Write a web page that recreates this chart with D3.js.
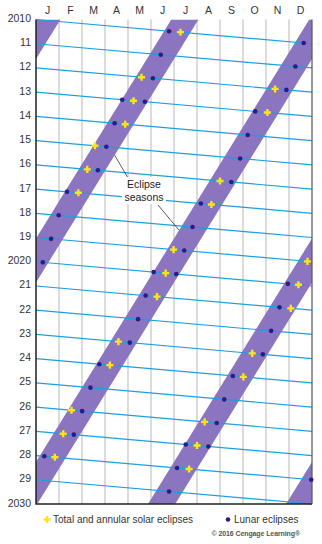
<!DOCTYPE html>
<html>
<head>
<meta charset="utf-8">
<script src="https://cdn.jsdelivr.net/npm/d3@7"></script>
<style>
  body { margin: 0; background: #fff; }
  svg text { font-family: "Liberation Sans", Arial, Helvetica, sans-serif; }
</style>
</head>
<body>
<div class="chart"></div>
<script>
const months = ['J', 'F', 'M', 'A', 'M', 'J', 'J', 'A', 'S', 'O', 'N', 'D'];
const yearTicks = d3.range(2010, 2031);
const yearLabels = ['2010', '11', '12', '13', '14', '15', '16', '17', '18', '19',
    '2020', '21', '22', '23', '24', '25', '26', '27', '28', '29', '2030'];

// total, annular and hybrid solar eclipses shown on the chart
const solarEclipses = [
    '2010-07-11', '2012-05-20', '2012-11-13', '2013-05-10', '2013-11-03',
    '2014-04-29', '2015-03-20', '2016-03-09', '2016-09-01', '2017-02-26',
    '2017-08-21', '2019-07-02', '2019-12-26', '2020-06-21', '2020-12-14',
    '2021-06-10', '2021-12-04', '2023-04-20', '2023-10-14', '2024-04-08',
    '2024-10-02', '2026-02-17', '2026-08-12', '2027-02-06', '2027-08-02',
    '2028-01-26', '2028-07-22'
];

const lunarEclipses = [
    '2010-06-26', '2010-12-21', '2011-06-15', '2011-12-10', '2012-06-04',
    '2012-11-28', '2013-04-25', '2013-05-25', '2013-10-18', '2014-04-15',
    '2014-10-08', '2015-04-04', '2015-09-28', '2016-03-23', '2016-09-16',
    '2017-02-11', '2017-08-07', '2018-01-31', '2018-07-27', '2019-01-21',
    '2019-07-16', '2020-01-10', '2020-06-05', '2020-07-05', '2020-11-30',
    '2021-05-26', '2021-11-19', '2022-05-16', '2022-11-08', '2023-05-05',
    '2023-10-28', '2024-03-25', '2024-09-18', '2025-03-14', '2025-09-07',
    '2026-03-03', '2026-08-28', '2027-02-20', '2027-07-18', '2027-08-17',
    '2028-01-12', '2028-07-06', '2028-12-31', '2029-06-26'
];

// eclipse season bands: centre day-of-year at start of 2010, drift per year, half width (days)
const seasonCenterDay = 197;
const seasonDrift = -19.8;
const seasonHalfWidth = 18;
const seasonSpacing = 365.25 / 2;

const W = 322, H = 544;
const margin = { top: 19.5, left: 36, right: 10, bottom: 40 };

const svg = d3.select('.chart').append('svg')
    .attr('width', W).attr('height', H);

const x = d3.scaleLinear().domain([0, 1]).range([margin.left, W - margin.right]);
const y = d3.scaleLinear().domain([2010, 2030]).range([margin.top, H - margin.bottom]);

const parse = d3.utcParse('%Y-%m-%d');
const toPos = function (s) {
    const d = parse(s);
    const y0 = d3.utcYear.floor(d);
    const y1 = d3.utcYear.offset(y0, 1);
    const frac = (d - y0) / (y1 - y0);
    return { frac: frac, t: d.getUTCFullYear() + frac };
};

svg.append('defs').append('clipPath').attr('id', 'plot')
    .append('rect')
    .attr('x', x(0)).attr('y', y(2010))
    .attr('width', x(1) - x(0)).attr('height', y(2030) - y(2010));

// month grid
svg.append('g').selectAll('line').data(d3.range(1, 12))
    .enter().append('line')
    .attr('x1', function (d) { return x(d / 12); })
    .attr('x2', function (d) { return x(d / 12); })
    .attr('y1', y(2010)).attr('y2', y(2030))
    .style('stroke', '#c4c4c4').style('stroke-width', 1.2);

// eclipse season bands
const bandCenter = function (t, k) {
    return (seasonCenterDay + seasonDrift * (t - 2010) + k * seasonSpacing) / 365.25;
};
const hw = seasonHalfWidth / 365.25;
svg.append('g').attr('clip-path', 'url(#plot)')
    .selectAll('path').data(d3.range(-1, 5))
    .enter().append('path')
    .attr('d', function (k) {
        const a = bandCenter(2010, k), b = bandCenter(2030, k);
        return 'M' + x(a - hw) + ',' + y(2010) + 'L' + x(a + hw) + ',' + y(2010) +
            'L' + x(b + hw) + ',' + y(2030) + 'L' + x(b - hw) + ',' + y(2030) + 'Z';
    })
    .style('fill', '#8b75c0');

// helical year lines
svg.append('g').selectAll('line').data(d3.range(2010, 2030))
    .enter().append('line')
    .attr('x1', x(0)).attr('y1', function (d) { return y(d); })
    .attr('x2', x(1)).attr('y2', function (d) { return y(d + 1); })
    .style('stroke', '#1a9fe0').style('stroke-width', 1.2);

// frame
svg.append('path')
    .attr('d', 'M' + x(0) + ',' + y(2010) + 'V' + y(2030) + 'H' + x(1))
    .style('fill', 'none').style('stroke', '#222').style('stroke-width', 1.5);
svg.append('line')
    .attr('x1', x(1)).attr('x2', x(1)).attr('y1', y(2010)).attr('y2', y(2030))
    .style('stroke', '#555').style('stroke-width', 1.2);

// month labels
svg.append('g').selectAll('text').data(months)
    .enter().append('text')
    .attr('x', function (d, i) { return x((i + 0.5) / 12); })
    .attr('y', 14)
    .attr('text-anchor', 'middle')
    .style('font-size', '10.5px').style('fill', '#333')
    .text(function (d) { return d; });

// year labels
svg.append('g').selectAll('text').data(yearTicks)
    .enter().append('text')
    .attr('x', 31)
    .attr('y', function (d) { return y(d) + 2.5; })
    .attr('text-anchor', 'end')
    .style('font-size', '10.5px').style('fill', '#333')
    .text(function (d, i) { return yearLabels[i]; });

// annotation
const ann = svg.append('g');
const t1 = 2015.6, t2 = 2018.7;
ann.append('line')
    .attr('x1', x(bandCenter(t1, 0) + hw)).attr('y1', y(t1))
    .attr('x2', 128).attr('y2', 178)
    .style('stroke', '#333').style('stroke-width', 0.8);
ann.append('line')
    .attr('x1', 158).attr('y1', 205)
    .attr('x2', x(bandCenter(t2, 1) - hw)).attr('y2', y(t2))
    .style('stroke', '#333').style('stroke-width', 0.8);
ann.append('rect')
    .attr('x', 122).attr('y', 177).attr('width', 44).attr('height', 27)
    .style('fill', '#fff');
ann.append('text').attr('x', 144).attr('y', 187.5).attr('text-anchor', 'middle')
    .style('font-size', '10.5px').style('fill', '#222').text('Eclipse');
ann.append('text').attr('x', 144).attr('y', 200.5).attr('text-anchor', 'middle')
    .style('font-size', '10.5px').style('fill', '#222').text('seasons');

// eclipses
const cross = d3.symbol().type(d3.symbolCross).size(28);
svg.append('g').selectAll('path').data(solarEclipses.map(toPos))
    .enter().append('path')
    .attr('transform', function (d) { return 'translate(' + x(d.frac) + ',' + y(d.t) + ')'; })
    .attr('d', cross)
    .style('fill', '#ffe41c');

svg.append('g').selectAll('circle').data(lunarEclipses.map(toPos))
    .enter().append('circle')
    .attr('cx', function (d) { return x(d.frac); })
    .attr('cy', function (d) { return y(d.t); })
    .attr('r', 2.3)
    .style('fill', '#2d1a88');

// legend
const legend = svg.append('g');
legend.append('path')
    .attr('transform', 'translate(47,519.5)')
    .attr('d', cross)
    .style('fill', '#ffe41c');
legend.append('text').attr('x', 53).attr('y', 523)
    .style('font-size', '10px').style('fill', '#333')
    .text('Total and annular solar eclipses');
legend.append('circle').attr('cx', 228).attr('cy', 519.5).attr('r', 2.3)
    .style('fill', '#2d1a88');
legend.append('text').attr('x', 234).attr('y', 523)
    .style('font-size', '10px').style('fill', '#333')
    .text('Lunar eclipses');
legend.append('text').attr('x', 300).attr('y', 535.5)
    .attr('text-anchor', 'end')
    .style('font-size', '7px').style('font-weight', 'bold').style('fill', '#555')
    .style('letter-spacing', '-0.1px')
    .text('© 2016 Cengage Learning®');
</script>
</body>
</html>
